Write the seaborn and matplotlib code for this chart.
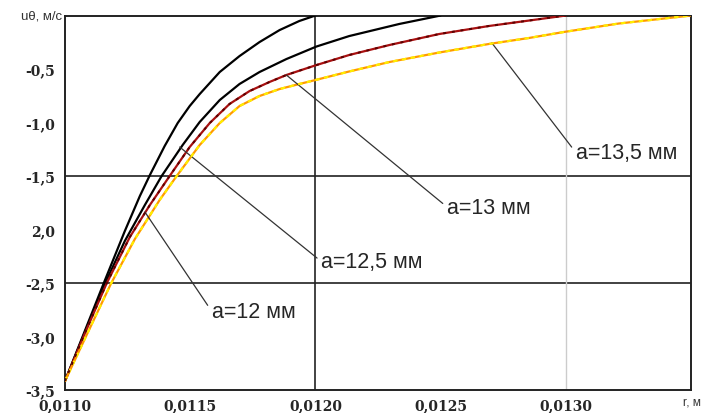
"""
Tangential velocity profiles u_theta(r) for several values of a.
"""

import pandas as pd
import seaborn as sns
from matplotlib import pyplot as plt
from matplotlib import transforms

# radius values (m) and velocities (m/s)
r_a12 = [0.011000, 0.011155, 0.011239, 0.011299, 0.011339, 0.011398, 0.011450,
         0.011498, 0.011538, 0.011618, 0.011697, 0.011777, 0.011857, 0.011936,
         0.012000]
u_a12 = [-3.416, -2.500, -2.014, -1.687, -1.491, -1.220, -1.005,
         -0.846, -0.734, -0.528, -0.379, -0.248, -0.136, -0.051, 0.0]

r_a125 = [0.011000, 0.011080, 0.011159, 0.011239, 0.011319, 0.011386, 0.011470,
          0.011538, 0.011618, 0.011697, 0.011777, 0.011884, 0.012004, 0.012135,
          0.012335, 0.012500]
u_a125 = [-3.416, -2.958, -2.509, -2.107, -1.771, -1.500, -1.210,
          -0.995, -0.790, -0.640, -0.528, -0.407, -0.290, -0.192, -0.079, 0.0]

r_a13 = [0.011000, 0.011080, 0.011167, 0.011259, 0.011339, 0.011418, 0.011498,
         0.011578, 0.011657, 0.011737, 0.011817, 0.011884, 0.012004, 0.012135,
         0.012295, 0.012494, 0.012693, 0.012853, 0.013000]
u_a13 = [-3.416, -2.967, -2.500, -2.070, -1.771, -1.500, -1.229,
         -1.005, -0.827, -0.706, -0.621, -0.556, -0.463, -0.369,
         -0.276, -0.173, -0.098, -0.047, 0.0]

r_a135 = [0.011000, 0.011092, 0.011183, 0.011279, 0.011378, 0.011446, 0.011538,
          0.011618, 0.011697, 0.011777, 0.011857, 0.011936, 0.012000, 0.012135,
          0.012295, 0.012494, 0.012693, 0.012853, 0.012992, 0.013211, 0.013500]
u_a135 = [-3.416, -2.958, -2.509, -2.089, -1.724, -1.500, -1.210,
          -1.005, -0.846, -0.752, -0.687, -0.640, -0.603, -0.523,
          -0.435, -0.346, -0.266, -0.210, -0.154, -0.075, 0.0]

labels = ["a=12 мм", "a=12,5 мм", "a=13 мм", "a=13,5 мм"]

x_ticks = [0.0110, 0.0115, 0.0120, 0.0125, 0.0130]
x_ticklabels = ["0,0110", "0,0115", "0,0120", "0,0125", "0,0130"]
y_ticks = [-0.5, -1.0, -1.5, -2.0, -2.5, -3.0, -3.5]
y_ticklabels = ["-0,5", "-1,0", "-1,5", "2,0", "-2,5", "-3,0", "-3,5"]

# where each leader line touches a curve, and where its label sits
leader_points = [(0.011319, -1.836), (0.011458, -1.229),
                 (0.011884, -0.556), (0.012705, -0.257)]
label_points = [(0.011586, -2.765), (0.012024, -2.300),
                (0.012526, -1.790), (0.013040, -1.280)]


def build_frame():
    rows = []
    for lab, rs, us in zip(labels, [r_a12, r_a125, r_a13, r_a135],
                           [u_a12, u_a125, u_a13, u_a135]):
        for r, u in zip(rs, us):
            rows.append({"r": r, "u": u, "a": lab})
    return pd.DataFrame(rows)


def main():
    sns.set_style("white")
    df = build_frame()

    fig = plt.figure(figsize=(7.02, 4.14), dpi=100)
    ax = fig.add_axes([0.0926, 0.0556, 0.8917, 0.9045])

    # grid lines as in the original
    ax.axhline(-1.5, color="#333333", lw=1.3, zorder=1)
    ax.axhline(-2.5, color="#333333", lw=1.3, zorder=1)
    ax.axvline(0.0120, color="#222222", lw=1.2, zorder=1)
    ax.axvline(0.0130, color="#cccccc", lw=1.0, zorder=1)

    palette = {labels[0]: "black", labels[1]: "black",
               labels[2]: "#a81010", labels[3]: "#ff9a00"}
    sns.lineplot(data=df, x="r", y="u", hue="a", palette=palette,
                 estimator=None, sort=False, lw=1.6, legend=False, ax=ax,
                 zorder=3)
    # speckled texture of the coloured curves
    sns.lineplot(data=df[df["a"] == labels[3]], x="r", y="u", color="#ffee00",
                 estimator=None, sort=False, lw=1.6, ax=ax, zorder=4,
                 linestyle=(0, (2, 2)))
    sns.lineplot(data=df[df["a"] == labels[2]], x="r", y="u", color="#5a0000",
                 estimator=None, sort=False, lw=1.4, ax=ax, zorder=4,
                 linestyle=(0, (1.5, 3)))

    for lab, p, t in zip(labels, leader_points, label_points):
        ax.annotate(lab, xy=p, xytext=t, ha="left", va="center",
                    fontsize=15.5, family="Liberation Sans",
                    arrowprops=dict(arrowstyle="-", color="#333333", lw=0.9,
                                    shrinkA=1, shrinkB=0, relpos=(0, 0.5)))

    ax.set_xlim(0.0110, 0.0135)
    ax.set_ylim(-3.5, 0)
    ax.set_xticks(x_ticks)
    ax.set_xticklabels(x_ticklabels, fontsize=10, family="DejaVu Serif",
                       fontweight="bold")
    ax.set_yticks(y_ticks)
    ax.set_yticklabels(y_ticklabels, fontsize=10, family="DejaVu Serif",
                       fontweight="bold")
    # the original labels sit a little right of their ticks
    shifts = [11, 8, 6, 13, 17]
    for lbl, dx in zip(ax.get_xticklabels(), shifts):
        lbl.set_transform(lbl.get_transform() + transforms.ScaledTranslation(
            dx / 100, 0, fig.dpi_scale_trans))
    ax.tick_params(axis="x", length=0, pad=6)
    ax.tick_params(axis="y", length=2.5, direction="inout", width=1.2, pad=6)
    ax.set_xlabel("")
    ax.set_ylabel("")

    for s in ax.spines.values():
        s.set_color("#222222")
        s.set_linewidth(1.4)

    ax.text(-0.005, 1.0, "uθ, м/с", transform=ax.transAxes, ha="right",
            va="center", fontsize=9.5, family="Liberation Sans",
            color="#333333")
    fig.text(0.9985, 0.027, "r, м", ha="right", va="center", fontsize=8.5,
             family="Liberation Sans", color="#333333")

    fig.savefig("out.png", dpi=100)


if __name__ == "__main__":
    main()
